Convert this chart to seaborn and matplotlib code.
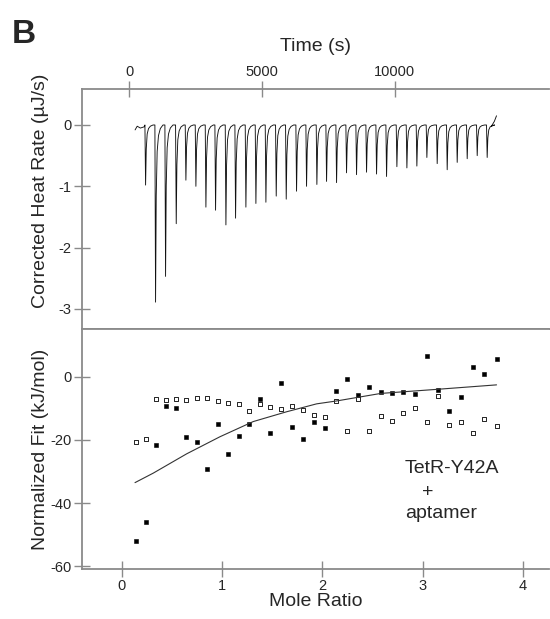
import matplotlib
matplotlib.use('Agg')
import matplotlib.pyplot as plt
import seaborn as sns
import numpy as np
import pandas as pd

# raw thermogram: time of each injection peak (s) and its depth (uJ/s)
inj_time = [616, 992, 1369, 1771, 2135, 2512, 2889, 3253, 3643, 4007,
            4396, 4773, 5150, 5539, 5916, 6305, 6682, 7071, 7436, 7813,
            8189, 8566, 8943, 9320, 9697, 10086, 10463, 10839, 11216, 11605,
            11982, 12359, 12736, 13113, 13489]
inj_peak = [-0.98, -2.89, -2.47, -1.61, -0.90, -1.00, -1.34, -1.39, -1.63, -1.52,
            -1.34, -1.28, -1.26, -1.16, -1.21, -1.08, -1.00, -0.97, -0.92, -0.94,
            -0.78, -0.81, -0.77, -0.80, -0.84, -0.68, -0.70, -0.67, -0.53, -0.63,
            -0.73, -0.61, -0.55, -0.50, -0.53]
# shape of one peak: offset from the peak (s), fraction of depth
peak_dt = [-25, 0, 25, 60, 110, 180, 280]
peak_frac = [0.0, 1.0, 0.40, 0.15, 0.06, 0.02, 0.0]
# start and end of the trace
head_t = [220, 300, 420, 560]
head_q = [-0.08, -0.02, -0.05, -0.03]
tail_t = [13650, 13760, 13840]
tail_q = [-0.02, 0.06, 0.15]

# integrated heats
mole_ratio = [0.139, 0.246, 0.345, 0.445, 0.545, 0.644, 0.747, 0.854, 0.957, 1.063,
              1.169, 1.272, 1.379, 1.482, 1.592, 1.698, 1.811, 1.921, 2.030, 2.140,
              2.250, 2.359, 2.466, 2.585, 2.692, 2.805, 2.924, 3.041, 3.150, 3.266,
              3.386, 3.503, 3.615, 3.738]
heat_filled = [-52.0, -46.1, -21.5, -9.3, -9.8, -19.2, -20.6, -29.1, -14.9, -24.5,
               -18.9, -14.9, -7.0, -17.8, -2.1, -15.9, -19.7, -14.2, -16.1, -4.5,
               -0.8, -5.7, -3.2, -5.0, -5.3, -4.8, -5.5, 6.5, -4.1, -10.8,
               -6.5, 2.9, 0.9, 5.5]
heat_open = [-20.7, -19.7, -7.0, -7.5, -7.0, -7.3, -6.7, -6.8, -7.7, -8.3,
             -8.5, -10.9, -8.7, -9.6, -10.2, -9.4, -10.4, -12.1, -12.6, -7.7,
             -17.3, -7.2, -17.1, -12.4, -14.0, -11.6, -9.8, -14.2, -6.1, -15.3,
             -14.4, -17.7, -13.3, -15.7]
fit_x = [0.133, 0.315, 0.648, 0.980, 1.312, 1.645, 1.944, 2.140, 2.585, 3.150, 3.738]
fit_y = [-33.5, -30.5, -24.4, -19.0, -14.2, -11.1, -8.6, -7.7, -5.3, -4.0, -2.6]

# build the thermogram line
t_all, q_all = list(head_t), list(head_q)
for t0, p in zip(inj_time, inj_peak):
    for dt, f in zip(peak_dt, peak_frac):
        t_all.append(t0 + dt)
        q_all.append(p * f)
t_all += tail_t
q_all += tail_q
trace = pd.DataFrame({'t': t_all, 'q': q_all})

heats = pd.DataFrame({'mr': mole_ratio, 'filled': heat_filled, 'open': heat_open})
fit = pd.DataFrame({'mr': fit_x, 'h': fit_y})

sns.set_style('ticks')
plt.rcParams['font.family'] = ['Liberation Sans', 'DejaVu Sans']
plt.rcParams['axes.unicode_minus'] = False

spine_col = '#8a8a8a'
fig = plt.figure(figsize=(5.5, 6.19), dpi=100)
ax1 = fig.add_axes([0.149, 0.4685, 0.849, 0.3877])
ax2 = fig.add_axes([0.149, 0.0808, 0.849, 0.3877])

for ax in (ax1, ax2):
    ax.spines['right'].set_visible(False)
    for s in ('left', 'top', 'bottom'):
        ax.spines[s].set_color(spine_col)
        ax.spines[s].set_linewidth(1.3)
    ax.tick_params(direction='inout', length=11, width=1, color=spine_col,
                   labelsize=10.5, pad=2)

# top: raw heat rate
sns.lineplot(data=trace, x='t', y='q', sort=False, estimator=None,
             color='#111111', lw=0.65, ax=ax1)
ax1.set_xlim(-1782, 15815)
ax1.set_ylim(-3.328, 0.587)
ax1.set_xticks([0, 5000, 10000])
ax1.set_yticks([0, -1, -2, -3])
ax1.xaxis.tick_top()
ax1.xaxis.set_label_position('top')
ax1.set_xlabel('Time (s)', fontsize=14, labelpad=10)
ax1.set_ylabel('Corrected Heat Rate (µJ/s)', fontsize=14)
ax1.yaxis.set_label_coords(-0.07, 0.575)

# bottom: integrated heats and fit
sns.scatterplot(data=heats, x='mr', y='filled', marker='s', s=8,
                color='black', edgecolor='black', linewidth=0.4, ax=ax2)
sns.scatterplot(data=heats, x='mr', y='open', marker='s', s=9,
                color='white', edgecolor='black', linewidth=0.6, ax=ax2)
sns.lineplot(data=fit, x='mr', y='h', color='#333333', lw=0.8, ax=ax2)
ax2.set_xlim(-0.396, 4.26)
ax2.set_ylim(-60.8, 15.06)
ax2.set_xticks([0, 1, 2, 3, 4])
ax2.set_yticks([0, -20, -40, -60])
ax2.set_xlabel('Mole Ratio', fontsize=14, labelpad=0)
ax2.set_ylabel('Normalized Fit (kJ/mol)', fontsize=14)
ax2.yaxis.set_label_coords(-0.07, 0.5)

ax2.text(0.692, 0.42, 'TetR-Y42A', transform=ax2.transAxes, fontsize=14,
         ha='left', va='center')
ax2.text(0.740, 0.32, '+', transform=ax2.transAxes, fontsize=14,
         ha='center', va='center')
ax2.text(0.692, 0.23, 'aptamer', transform=ax2.transAxes, fontsize=14,
         ha='left', va='center')

fig.text(12 / 550, 1 - 19 / 619, 'B', fontsize=24, fontweight='bold',
         ha='left', va='top')

fig.savefig('out.png', dpi=100)
